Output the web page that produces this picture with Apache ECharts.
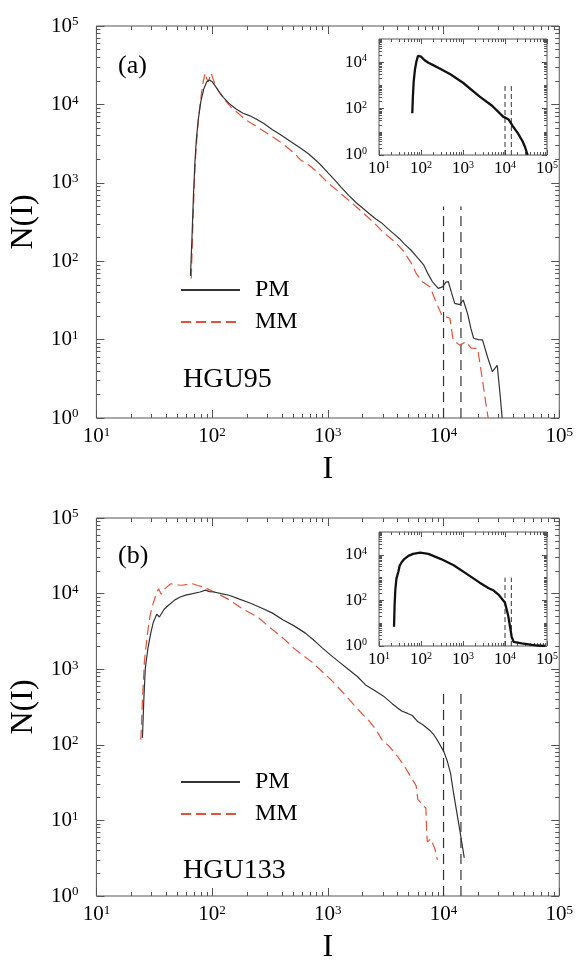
<!DOCTYPE html>
<html>
<head>
<meta charset="utf-8">
<script src="https://cdn.jsdelivr.net/npm/echarts@6/dist/echarts.min.js"></script>
<style>
  html, body { margin: 0; padding: 0; background: #fff; }
  #chart { width: 576px; height: 965px; }
</style>
</head>
<body>
<div id="chart"></div>
<script>
// panel (a) HGU95 : [I, N(I)]
const pmA = [[65, 65], [67, 200], [69, 700], [71, 1800], [73, 3500], [76, 6500], [80, 11000], [85, 16000], [90, 19500], [95, 20500], [100, 19500], [107, 17000], [115, 14500], [125, 12300], [140, 10300], [160, 8800], [185, 7700], [210, 7200], [240, 6500], [280, 5700], [330, 4800], [400, 4000], [480, 3350], [583, 2750], [680, 2350], [800, 1900], [900, 1600], [1000, 1350], [1150, 1080], [1300, 880], [1515, 690], [1750, 560], [2020, 470], [2300, 400], [2600, 345], [2900, 310], [3300, 260], [3700, 225], [4140, 195], [4600, 165], [5200, 140], [5980, 110], [6760, 89], [7300, 70], [8000, 55], [9000, 45], [9800, 47], [10500, 54], [11000, 55], [11700, 40], [12500, 29], [13800, 28], [14800, 32], [16200, 21], [17200, 14], [18200, 10.4], [20000, 10], [21700, 9.9], [24000, 6], [26400, 3.9], [29100, 4.7], [30800, 2], [32100, 1]];
const mmA = [[66, 60], [68, 250], [70, 900], [72, 2200], [75, 5000], [78, 9000], [81, 14000], [84, 20000], [87, 25000], [89, 22000], [92, 19500], [95, 21500], [98, 25000], [102, 21000], [108, 17000], [117, 13800], [128, 11500], [145, 9300], [165, 7900], [193, 6400], [230, 5500], [270, 4700], [320, 4000], [380, 3400], [450, 2800], [520, 2350], [583, 1950], [680, 1700], [800, 1400], [1000, 1000], [1200, 800], [1515, 600], [1800, 480], [2150, 380], [2500, 310], [3000, 235], [3500, 195], [3980, 165], [4500, 135], [5190, 98], [5800, 70], [6520, 55], [7670, 47], [8460, 32], [9640, 20.6], [10500, 19.5], [11350, 18.7], [12100, 9.9], [13800, 8.5], [15700, 9.4], [17300, 7.8], [19700, 7.7], [21700, 3.05], [23200, 1.54], [24300, 1]];
const insetA = [[62, 63], [64, 300], [67, 1500], [72, 5000], [78, 11000], [85, 19000], [90, 21000], [100, 17500], [120, 12500], [150, 9500], [200, 7300], [300, 5000], [500, 3000], [1000, 1300], [2500, 330], [5000, 130], [9000, 45], [12000, 35], [15500, 17], [20000, 9], [26000, 4], [30000, 2.2], [34600, 1]];

// panel (b) HGU133
const pmB = [[25, 124], [25.7, 400], [26.5, 1050], [27.9, 1900], [29.5, 3000], [31, 4150], [33.2, 5340], [35, 4900], [36.2, 4800], [38.5, 6200], [42, 7000], [47.7, 8260], [53, 9000], [59, 9560], [68, 10000], [78.6, 10500], [87.6, 11100], [95, 10600], [104, 10500], [120, 10000], [140, 9500], [170, 8500], [215, 7450], [270, 6400], [330, 5560], [408, 4500], [507, 3770], [640, 3000], [780, 2320], [900, 1900], [1040, 1570], [1250, 1250], [1500, 1000], [1800, 800], [2120, 620], [2500, 530], [3030, 440], [3600, 350], [4340, 280], [4900, 260], [5380, 244], [5980, 203], [6670, 183], [7760, 151], [8270, 135], [9000, 110], [10100, 80], [10800, 60], [11500, 42], [12100, 25], [12700, 16], [14000, 6.6], [15100, 3.2]];
const mmB = [[24.2, 117], [25, 400], [26, 1290], [27.5, 2800], [29, 5000], [31, 7500], [33, 10000], [34.5, 11600], [36.3, 9800], [38, 11000], [40, 12000], [44, 13500], [50, 13000], [55, 12900], [62, 13300], [68, 13500], [75, 12800], [85, 12200], [95, 11200], [104, 10500], [120, 9400], [140, 8300], [165, 7000], [186, 6200], [215, 5500], [248, 4900], [300, 3800], [353, 3100], [420, 2500], [507, 1900], [600, 1550], [725, 1250], [850, 1000], [1040, 750], [1250, 560], [1480, 420], [1800, 300], [2250, 210], [2600, 160], [2920, 118], [3400, 95], [4040, 69], [4600, 52], [5090, 40], [5500, 33], [5800, 28.6], [6000, 19], [6170, 18.4], [6600, 16], [7040, 14.5], [7150, 7], [7250, 5.2], [7760, 5.7], [8000, 6], [8400, 4.26], [8850, 3.0]];
const insetB = [[22.8, 7], [23.5, 60], [24.5, 300], [26, 900], [28.8, 1750], [31, 3300], [34.6, 4700], [40, 6500], [50, 9000], [65, 11000], [95, 12500], [150, 11000], [300, 6500], [600, 3500], [1200, 1500], [2500, 600], [4000, 350], [5200, 280], [7000, 180], [10000, 79], [12000, 20], [14400, 2.6], [16000, 1.5], [25000, 1.3], [40000, 1.15], [60000, 1.05], [90000, 1]];

// dashed cut-off lines
const cutX = [10000, 14142];
const cutTopMain = 500;
const cutTopInset = 1000;

// ticks
const xTicks = [10, 100, 1000, 10000, 100000];
const yTicksMain = [1, 10, 100, 1000, 10000, 100000];
const yTicksInset = [1, 100, 10000];

const FONT = '"Liberation Serif", "DejaVu Serif", serif';
const AXIS_COLOR = '#555';
const PM_COLOR = '#333';
const MM_COLOR = '#e0533f';

function minorTicks(lo, hi, skip) {
  const out = [];
  for (let e = lo; e < hi; e++) {
    for (let m = 2; m <= 9; m++) out.push(m * Math.pow(10, e));
  }
  return out.concat(skip || []);
}

const option = {
  animation: false,
  backgroundColor: '#fff',
  grid: [],
  xAxis: [],
  yAxis: [],
  series: [],
  legend: [],
  graphic: []
};

// one framed log-log panel, returns index of labelled axes
function addPanel(box, yMajor, yLabels, big, names) {
  const g = option.grid.length;
  option.grid.push({
    left: box[0], top: box[1], width: box[2], height: box[3],
    show: true, borderColor: AXIS_COLOR, borderWidth: 1, backgroundColor: 'rgba(0,0,0,0)'
  });
  const len = big ? [8, 4] : [5, 3];
  const fs = big ? [21, 13] : [17, 10];
  const label = (vals, margin) => ({
    show: true,
    customValues: vals,
    margin: margin,
    color: '#000',
    fontFamily: FONT,
    fontSize: fs[0],
    formatter: v => '10{s|' + Math.round(Math.log10(v)) + '}',
    rich: { s: { fontFamily: FONT, fontSize: fs[1], color: '#000', verticalAlign: 'top' } }
  });
  const mk = (dim, pos, ticks, tickLen, lab, name) => {
    const ax = {
      type: 'log', logBase: 10, gridIndex: g, position: pos,
      min: dim === 'x' ? 10 : 1,
      max: 100000,
      axisLine: { show: false, onZero: false },
      splitLine: { show: false },
      axisTick: { show: true, inside: true, length: tickLen, customValues: ticks, lineStyle: { color: AXIS_COLOR, width: 1 } },
      axisLabel: lab || { show: false }
    };
    if (name) Object.assign(ax, name);
    option[dim + 'Axis'].push(ax);
    return option[dim + 'Axis'].length - 1;
  };
  const xMinor = minorTicks(1, 5);
  const yMinor = big ? minorTicks(0, 5) : minorTicks(0, 5, [10, 1000, 100000]);
  const xi = mk('x', 'bottom', xTicks, len[0], label(xTicks, big ? 8 : 5), names && {
    name: 'I', nameLocation: 'middle', nameGap: 36,
    nameTextStyle: { fontFamily: FONT, fontSize: 32, color: '#000', verticalAlign: 'top' }
  });
  mk('x', 'bottom', xMinor, len[1]);
  mk('x', 'top', xTicks, len[0]);
  mk('x', 'top', xMinor, len[1]);
  const yi = mk('y', 'left', yMajor, len[0], label(yLabels, big ? 18 : 12), names && {
    name: 'N(I)', nameLocation: 'middle', nameGap: 52, nameRotate: 90,
    nameTextStyle: { fontFamily: FONT, fontSize: 32, color: '#000' }
  });
  mk('y', 'left', yMinor, len[1]);
  mk('y', 'right', yMajor, len[0]);
  mk('y', 'right', yMinor, len[1]);
  return [xi, yi];
}

function line(name, axes, data, color, width, dash, z) {
  option.series.push({
    name: name, type: 'line', xAxisIndex: axes[0], yAxisIndex: axes[1],
    data: data, symbol: 'none', showSymbol: false, z: z || 2,
    lineStyle: { color: color, width: width, type: dash || 'solid' },
    itemStyle: { color: color }
  });
}

function cuts(axes, top, width, dash) {
  cutX.forEach((x, i) => line('cut' + i, axes, [[x, 1], [x, top]], '#333', width, dash, 1));
}

// panel (a)
const mainA = addPanel([92, 26, 471, 392], yTicksMain, yTicksMain, true, true);
cuts(mainA, cutTopMain, 1.2, [10, 6]);
line('MM', mainA, mmA, MM_COLOR, 1.2, [10, 5]);
line('PM', mainA, pmA, PM_COLOR, 1.2);
const inA = addPanel([379, 39, 168, 116], yTicksInset, yTicksInset, false, false);
cuts(inA, cutTopInset, 1, [5, 3]);
line('PM inset', inA, insetA, '#111', 2.3);

// panel (b)
const mainB = addPanel([93, 518, 471, 393], yTicksMain, yTicksMain, true, true);
cuts(mainB, cutTopMain, 1.2, [10, 6]);
line('MM', mainB, mmB, MM_COLOR, 1.2, [10, 5]);
line('PM', mainB, pmB, PM_COLOR, 1.2);
const inB = addPanel([379, 532, 168, 114], yTicksInset, yTicksInset, false, false);
cuts(inB, cutTopInset, 1, [5, 3]);
line('PM inset', inB, insetB, '#111', 2.3);

[278, 770].forEach(top => {
  option.legend.push({
    data: ['PM', 'MM'], left: 180, top: top, orient: 'vertical', padding: 0,
    itemWidth: 59, itemHeight: 14, itemGap: 8, selectedMode: false,
    itemStyle: { opacity: 0 },
    textStyle: { fontFamily: FONT, fontSize: 24, color: '#000', lineHeight: 24, padding: [0, 0, 0, 10] }
  });
});

const txt = (s, left, top, size) => ({
  type: 'text', left: left, top: top,
  style: { text: s, fontFamily: FONT, fontSize: size, fill: '#000' }
});
option.graphic.push(txt('(a)', 118, 53, 26), txt('HGU95', 183, 366, 28));
option.graphic.push(txt('(b)', 118, 543, 26), txt('HGU133', 183, 857, 28));

const chart = echarts.init(document.getElementById('chart'), null, { renderer: 'canvas' });
chart.setOption(option);
</script>
</body>
</html>
